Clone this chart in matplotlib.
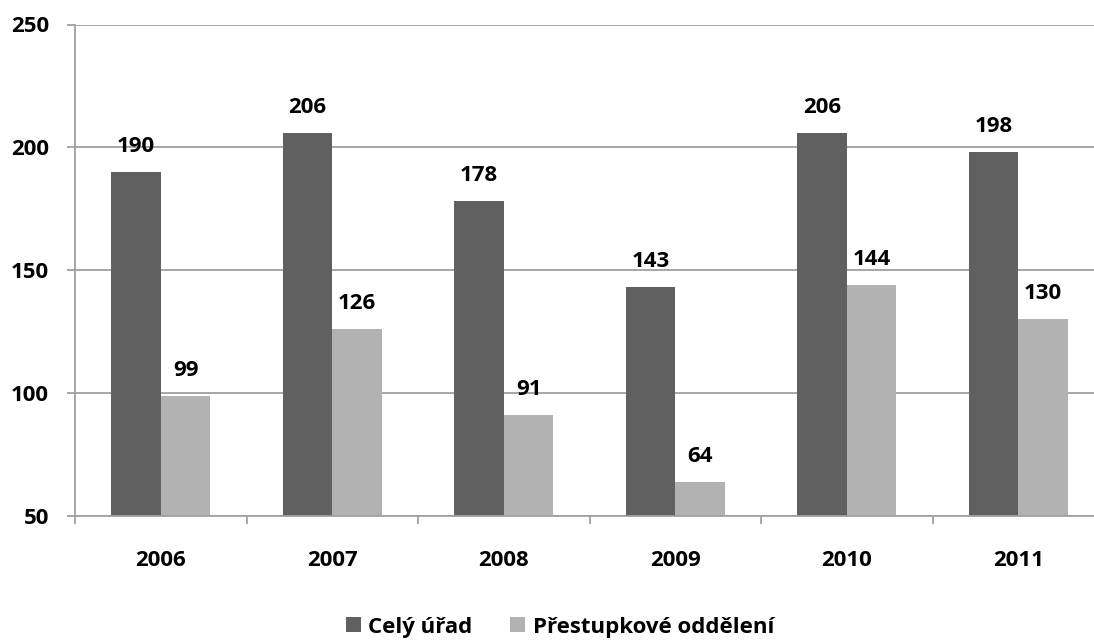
import numpy as np
import matplotlib.pyplot as plt

years = ['2006', '2007', '2008', '2009', '2010', '2011']
cely_urad = [190, 206, 178, 143, 206, 198]
prestupkove = [99, 126, 91, 64, 144, 130]
labels = ['Celý úřad', 'Přestupkové oddělení']

plt.rcParams['font.family'] = ['Open Sans', 'DejaVu Sans']
plt.rcParams['font.weight'] = 'bold'

fig = plt.figure(figsize=(10.94, 6.4), dpi=100)
# plot area runs slightly past the right edge, as in the reference
ax = fig.add_axes([75 / 1094, 1 - 516 / 640, 1029 / 1094, 491.5 / 640])

x = np.arange(len(years))
w = 0.29
dark = '#606060'
light = '#b2b2b2'
b1 = ax.bar(x - w / 2, cely_urad, w, color=dark, label=labels[0])
b2 = ax.bar(x + w / 2, prestupkove, w, color=light, label=labels[1])

fs = 16
for bars, vals in ((b1, cely_urad), (b2, prestupkove)):
    for r, v in zip(bars, vals):
        ax.annotate(str(v), (r.get_x() + r.get_width() / 2, v), xytext=(0, 14.4),
                    textcoords='offset points', ha='center', va='baseline',
                    fontsize=fs, fontweight='bold')

ax.set_xlim(-0.5, len(years) - 0.5)
ax.set_ylim(50, 250)
ax.set_yticks([50, 100, 150, 200, 250])
ax.yaxis.grid(True, color='#a0a0a0', linewidth=1.3)
ax.set_axisbelow(True)

ax.set_xticks(x)
ax.set_xticklabels(years, fontweight='bold')
ax.set_yticklabels([50, 100, 150, 200, 250], fontweight='bold')
ax.set_xticks(np.arange(len(years) + 1) - 0.5, minor=True)
ax.tick_params(axis='x', which='major', length=0, pad=24.5, labelsize=fs)
ax.tick_params(axis='x', which='minor', length=5.8, color='#a0a0a0', width=1.3)
ax.tick_params(axis='y', length=5.8, color='#a0a0a0', width=1.3, pad=13, labelsize=fs)

for s in ('top', 'right'):
    ax.spines[s].set_visible(False)
for s in ('left', 'bottom'):
    ax.spines[s].set_color('#a0a0a0')
    ax.spines[s].set_linewidth(1.3)

fig.legend(handles=[b1, b2], loc='center', bbox_to_anchor=(560 / 1094, 1 - 627 / 640),
           ncol=2, frameon=False, prop={'size': fs, 'weight': 'bold'},
           handlelength=0.68, handleheight=0.68, handletextpad=0.32, columnspacing=1.7,
           borderpad=0, borderaxespad=0)

plt.savefig('out.png', dpi=100)
plt.close()
